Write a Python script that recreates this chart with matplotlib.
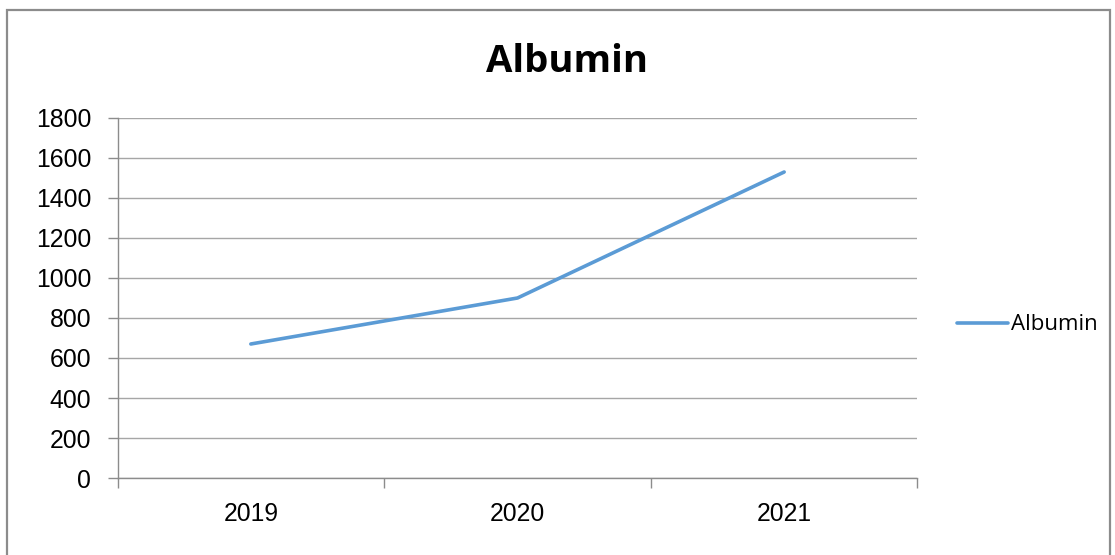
import matplotlib.pyplot as plt
from matplotlib.patches import Rectangle

# chart data
years = ["2019", "2020", "2021"]
albumin = [670, 900, 1530]
y_ticks = [0, 200, 400, 600, 800, 1000, 1200, 1400, 1600, 1800]

W, H = 1115, 555
fig = plt.figure(figsize=(W / 100, H / 100), dpi=100)

# outer chart border
fig.patches.append(Rectangle((7 / W, -0.05), (1110 - 7) / W, 1.05 - 10 / H,
                             transform=fig.transFigure, fill=False,
                             edgecolor='#8c8c8c', linewidth=1.6))

# plot area in pixels
left, right, top, bottom = 117.5, 917.5, 118, 478
ax = fig.add_axes([left / W, 1 - bottom / H, (right - left) / W, (bottom - top) / H])

x = range(len(years))
ax.plot(x, albumin, color='#5b9bd5', linewidth=2.6, solid_capstyle='round',
        label="Albumin", zorder=3)

ax.set_xlim(-0.5, len(years) - 0.5)
ax.set_ylim(0, 1800)
ax.set_yticks(y_ticks)
ax.set_yticklabels([str(v) for v in y_ticks], fontfamily='Liberation Sans', fontsize=17.8)
ax.set_xticks(list(x))
ax.set_xticklabels(years, fontfamily='Liberation Sans', fontsize=17.8)
ax.tick_params(axis='x', length=0, pad=17)
ax.set_xticks([i - 0.5 for i in range(len(years) + 1)], minor=True)
ax.tick_params(axis='x', which='minor', length=7, color='#8c8c8c', width=1)
ax.tick_params(axis='y', length=7, color='#8c8c8c', width=1, pad=12)

ax.grid(axis='y', color='#a6a6a6', linewidth=1)
ax.set_axisbelow(True)
for side in ['top', 'right']:
    ax.spines[side].set_visible(False)
for side in ['left', 'bottom']:
    ax.spines[side].set_color('#8c8c8c')
    ax.spines[side].set_linewidth(1)

fig.text(567 / W, 1 - 62 / H, "Albumin", ha='center', va='center',
         fontfamily='Open Sans', fontweight='bold', fontsize=27.5)

leg = ax.legend(loc='center left', bbox_to_anchor=(957 / W, 1 - 325 / H),
                bbox_transform=fig.transFigure, frameon=False,
                prop={'family': 'Open Sans', 'size': 16}, handlelength=2.3,
                handletextpad=0.15, borderaxespad=0, borderpad=0)

fig.savefig("out.png", dpi=100)
